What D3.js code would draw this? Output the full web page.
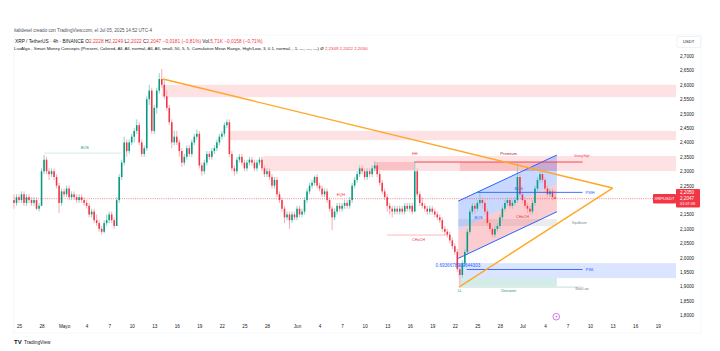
<!DOCTYPE html>
<html>
<head>
<meta charset="utf-8">
<script src="https://cdn.jsdelivr.net/npm/d3@7"></script>
<style>
  html, body { margin: 0; padding: 0; background: #fff; }
  svg { display: block; font-family: "Liberation Sans", Arial, sans-serif; }
  .axis .domain, .axis line { display: none; }
  .axis text { fill: #131722; font-size: 4.6px; font-family: "Liberation Sans", Arial, sans-serif; }
</style>
</head>
<body>
<svg id="chart" width="720" height="351"></svg>
<script>
// bars, one every 8h starting Apr 24 08:00 -> [open, high, low, close]
const firstCandle = new Date(2025, 3, 24, 8);
const candles = [
  [2.20,2.22,2.17,2.19],[2.19,2.22,2.18,2.21],
  // Apr 25 - Apr 30
  [2.21,2.22,2.19,2.20],[2.20,2.23,2.19,2.22],[2.22,2.23,2.18,2.19],
  [2.19,2.22,2.18,2.21],[2.21,2.22,2.19,2.20],[2.20,2.21,2.18,2.19],
  [2.19,2.21,2.18,2.20],[2.20,2.21,2.165,2.17],[2.17,2.19,2.16,2.18],
  [2.18,2.31,2.18,2.30],[2.30,2.356,2.29,2.34],[2.34,2.35,2.29,2.30],
  [2.30,2.31,2.27,2.29],[2.29,2.31,2.28,2.30],[2.30,2.31,2.27,2.28],
  [2.28,2.29,2.24,2.25],[2.25,2.26,2.155,2.19],[2.19,2.24,2.18,2.23],
  // May
  [2.23,2.24,2.21,2.22],[2.22,2.25,2.21,2.24],[2.24,2.25,2.20,2.21],
  [2.21,2.23,2.20,2.22],[2.22,2.23,2.20,2.21],[2.21,2.22,2.19,2.20],
  [2.20,2.22,2.19,2.21],[2.21,2.22,2.19,2.20],[2.20,2.21,2.18,2.19],
  [2.19,2.20,2.17,2.18],[2.18,2.19,2.14,2.15],[2.15,2.17,2.14,2.16],
  [2.16,2.17,2.12,2.13],[2.13,2.15,2.11,2.12],[2.12,2.13,2.09,2.10],
  [2.10,2.11,2.08,2.09],[2.09,2.13,2.085,2.12],[2.12,2.15,2.11,2.13],
  [2.13,2.16,2.12,2.15],[2.15,2.16,2.12,2.13],[2.13,2.14,2.10,2.11],
  [2.11,2.21,2.11,2.20],[2.20,2.29,2.19,2.28],[2.28,2.34,2.27,2.33],
  [2.33,2.42,2.32,2.40],[2.40,2.41,2.35,2.37],[2.37,2.41,2.36,2.40],
  [2.40,2.43,2.39,2.42],[2.42,2.45,2.40,2.44],[2.44,2.48,2.43,2.46],
  [2.46,2.47,2.39,2.40],[2.40,2.41,2.35,2.36],[2.36,2.39,2.35,2.38],
  [2.38,2.56,2.37,2.55],[2.55,2.60,2.53,2.58],[2.58,2.59,2.43,2.44],
  [2.44,2.53,2.43,2.52],[2.52,2.59,2.50,2.58],[2.58,2.64,2.57,2.62],
  [2.62,2.655,2.59,2.60],[2.60,2.62,2.55,2.56],[2.56,2.58,2.51,2.52],
  [2.52,2.53,2.46,2.47],[2.47,2.48,2.38,2.40],[2.40,2.44,2.39,2.42],
  [2.42,2.44,2.39,2.40],[2.40,2.41,2.35,2.37],[2.37,2.38,2.315,2.33],
  [2.33,2.36,2.32,2.35],[2.35,2.39,2.34,2.38],[2.38,2.39,2.35,2.36],
  [2.36,2.41,2.35,2.40],[2.40,2.43,2.39,2.42],[2.42,2.445,2.41,2.43],
  [2.43,2.44,2.31,2.32],[2.32,2.33,2.285,2.30],[2.30,2.34,2.29,2.33],
  [2.33,2.37,2.32,2.36],[2.36,2.37,2.34,2.35],[2.35,2.38,2.34,2.37],
  [2.37,2.39,2.36,2.38],[2.38,2.41,2.37,2.40],[2.40,2.43,2.39,2.42],
  [2.42,2.44,2.41,2.43],[2.43,2.47,2.42,2.46],[2.46,2.48,2.45,2.47],
  [2.47,2.48,2.35,2.36],[2.36,2.37,2.30,2.31],[2.31,2.32,2.285,2.30],
  [2.30,2.35,2.29,2.34],[2.34,2.36,2.33,2.35],[2.35,2.36,2.32,2.33],
  [2.33,2.34,2.30,2.31],[2.31,2.34,2.30,2.33],[2.33,2.35,2.32,2.34],
  [2.34,2.35,2.32,2.33],[2.33,2.34,2.30,2.31],[2.31,2.34,2.30,2.33],
  [2.33,2.35,2.32,2.34],[2.34,2.35,2.30,2.31],[2.31,2.32,2.28,2.29],
  [2.29,2.31,2.28,2.30],[2.30,2.31,2.27,2.28],[2.28,2.29,2.24,2.25],
  [2.25,2.28,2.24,2.27],[2.27,2.28,2.21,2.22],[2.22,2.23,2.19,2.20],
  [2.20,2.21,2.16,2.17],[2.17,2.18,2.12,2.14],[2.14,2.16,2.13,2.15],
  [2.15,2.16,2.10,2.13],[2.13,2.16,2.12,2.15],[2.15,2.16,2.13,2.14],
  // Jun
  [2.14,2.18,2.13,2.17],[2.17,2.18,2.14,2.15],[2.15,2.17,2.14,2.16],
  [2.16,2.21,2.15,2.20],[2.20,2.24,2.19,2.23],[2.23,2.26,2.22,2.25],
  [2.25,2.27,2.24,2.26],[2.26,2.285,2.25,2.28],[2.28,2.29,2.24,2.25],
  [2.25,2.26,2.23,2.24],[2.24,2.25,2.21,2.22],[2.22,2.24,2.21,2.23],
  [2.23,2.24,2.19,2.20],[2.20,2.21,2.16,2.17],[2.17,2.18,2.095,2.14],
  [2.14,2.17,2.13,2.16],[2.16,2.19,2.15,2.18],[2.18,2.19,2.16,2.17],
  [2.17,2.19,2.16,2.18],[2.18,2.20,2.17,2.19],[2.19,2.20,2.17,2.18],
  [2.18,2.21,2.17,2.20],[2.20,2.26,2.19,2.25],[2.25,2.28,2.24,2.27],
  [2.27,2.30,2.26,2.29],[2.29,2.32,2.28,2.31],[2.31,2.32,2.29,2.30],
  [2.30,2.31,2.27,2.28],[2.28,2.31,2.27,2.30],[2.30,2.31,2.28,2.29],
  [2.29,2.32,2.28,2.31],[2.31,2.335,2.30,2.32],[2.32,2.33,2.28,2.29],
  [2.29,2.30,2.25,2.26],[2.26,2.27,2.22,2.23],[2.23,2.24,2.20,2.21],
  [2.21,2.22,2.16,2.18],[2.18,2.19,2.15,2.17],[2.17,2.18,2.14,2.16],
  [2.16,2.18,2.15,2.17],[2.17,2.18,2.15,2.16],[2.16,2.18,2.15,2.17],
  [2.17,2.18,2.15,2.16],[2.16,2.19,2.15,2.18],[2.18,2.19,2.16,2.17],
  [2.17,2.19,2.16,2.18],[2.18,2.19,2.15,2.16],[2.16,2.335,2.16,2.30],
  [2.30,2.31,2.21,2.22],[2.22,2.23,2.18,2.19],[2.19,2.21,2.17,2.18],
  [2.18,2.19,2.16,2.17],[2.17,2.18,2.15,2.16],[2.16,2.18,2.15,2.17],
  [2.17,2.18,2.15,2.16],[2.16,2.17,2.14,2.15],[2.15,2.16,2.13,2.14],
  [2.14,2.15,2.12,2.13],[2.13,2.14,2.09,2.10],[2.10,2.11,2.08,2.09],
  [2.09,2.10,2.07,2.08],[2.08,2.09,2.05,2.06],[2.06,2.07,2.03,2.04],
  [2.04,2.05,2.01,2.02],[2.02,2.03,1.95,1.96],[1.96,1.98,1.905,1.94],
  [1.94,1.99,1.93,1.98],[1.98,2.03,1.97,2.02],[2.02,2.10,2.01,2.09],
  [2.09,2.17,2.08,2.16],[2.16,2.19,2.15,2.18],[2.18,2.19,2.15,2.17],
  [2.17,2.20,2.16,2.19],[2.19,2.23,2.18,2.20],[2.20,2.21,2.17,2.19],
  [2.19,2.20,2.15,2.16],[2.16,2.17,2.11,2.12],[2.12,2.13,2.09,2.10],
  [2.10,2.11,2.07,2.08],[2.08,2.11,2.07,2.10],[2.10,2.12,2.09,2.11],
  [2.11,2.15,2.10,2.14],[2.14,2.18,2.13,2.17],[2.17,2.20,2.16,2.19],
  [2.19,2.21,2.18,2.20],[2.20,2.21,2.17,2.18],[2.18,2.20,2.17,2.19],
  [2.19,2.21,2.18,2.20],[2.20,2.33,2.19,2.28],[2.28,2.29,2.21,2.22],
  // Jul
  [2.22,2.23,2.19,2.20],[2.20,2.21,2.17,2.18],[2.18,2.19,2.155,2.17],
  [2.17,2.18,2.15,2.16],[2.16,2.20,2.15,2.19],[2.19,2.25,2.18,2.24],
  [2.24,2.28,2.23,2.27],[2.27,2.305,2.26,2.29],[2.29,2.30,2.26,2.27],
  [2.27,2.28,2.23,2.24],[2.24,2.25,2.21,2.22],[2.22,2.24,2.21,2.23],
  [2.23,2.24,2.20,2.21],[2.21,2.235,2.2022,2.2047]
];
const lastPrice = 2.2047;

const priceTicks = [2.70, 2.65, 2.60, 2.55, 2.50, 2.45, 2.40, 2.35, 2.30, 2.25, 2.20, 2.15, 2.10, 2.05, 2.00, 1.95, 1.90, 1.85, 1.80];
const timeTicks = ["2025-04-25","2025-04-28","2025-05-01","2025-05-04","2025-05-07","2025-05-10","2025-05-13","2025-05-16","2025-05-19","2025-05-22","2025-05-25","2025-05-28","2025-06-01","2025-06-04","2025-06-07","2025-06-10","2025-06-13","2025-06-16","2025-06-19","2025-06-22","2025-06-25","2025-06-28","2025-07-01","2025-07-04","2025-07-07","2025-07-10","2025-07-13","2025-07-16","2025-07-19"];
const timeLabels = ["25","28","Mayo","4","7","10","13","16","19","22","25","28","Jun","4","7","10","13","16","19","22","25","28","Jul","4","7","10","13","16","19"];

// supply zones (run to the right edge): [from, top, bottom]
const supplyZones = [
  ["2025-05-14 00:00", 2.600, 2.557],
  ["2025-05-23 00:00", 2.440, 2.408],
  ["2025-05-27 12:00", 2.353, 2.301]
];
// darker blocks inside the lower zone: [from, to, top, bottom]
const orderBlocks = [
  ["2025-06-11 08:00", "2025-06-16 16:00", 2.332, 2.304],
  ["2025-06-22 16:00", "2025-07-05 14:00", 2.332, 2.301]
];
// rising channel: [date, upper, lower]
const channel = [["2025-06-22 11:00", 2.1965, 1.9976], ["2025-07-05 14:00", 2.3563, 2.1594]];
const equilibrium = ["2025-06-22 11:00", "2025-07-05 14:00", 2.134, 2.110];
const discountZone = ["2025-06-22 16:00", "2025-07-05 14:00", 1.929, 1.901];
const pwlZone = ["2025-06-22 11:00", 1.981, 1.929];
// triangle: [start date, start price], common apex
const triApex = ["2025-07-13 00:00", 2.2417];
const triLegs = [["2025-05-14 04:00", 2.62], ["2025-06-22 13:00", 1.898]];
// horizontal levels: [from, to, price, kind]
const levels = [
  ["2025-06-16 16:00", "2025-07-09 00:00", 2.332, "strong"],
  ["2025-06-25 00:00", "2025-07-09 00:00", 2.2267, "pwh"],
  ["2025-06-23 14:00", "2025-07-09 00:00", 1.959, "pwl"],
  ["2025-06-22 16:00", "2025-07-09 00:00", 1.898, "weak"],
  ["2025-06-13 00:00", "2025-06-21 00:00", 2.0785, "choch"],
  ["2025-04-28 08:00", "2025-05-08 16:00", 2.363, "bos"]
];
// text tags: [text, date, price, kind]
const tags = [
  ["BOS", "2025-05-03 18:00", 2.381, "green"],
  ["EQH", "2025-06-06 20:00", 2.217, "red"],
  ["HH", "2025-06-16 16:00", 2.360, "red"],
  ["CHoCH", "2025-06-17 04:00", 2.061, "red"],
  ["Premium", "2025-06-29 04:00", 2.360, "maroon"],
  ["Strong High", "2025-07-08 22:00", 2.353, "redsmall"],
  ["BOS", "2025-06-30 12:00", 2.238, "blue"],
  ["CHoCH", "2025-07-01 00:00", 2.144, "red"],
  ["BOS", "2025-06-25 04:00", 2.1375, "blue"],
  ["PWH", "2025-07-10 00:00", 2.2267, "blue"],
  ["Equilibrium", "2025-07-08 14:00", 2.122, "gray"],
  ["0.6936678909644303", "2025-06-22 10:00", 1.9743, "bluebig"],
  ["PWL", "2025-07-10 00:00", 1.959, "blue"],
  ["LL", "2025-06-22 16:00", 1.884, "green"],
  ["Discount", "2025-06-29 04:00", 1.884, "green"],
  ["Weak Low", "2025-07-08 22:00", 1.891, "gray"]
];
const eventDate = "2025-07-05 12:00";

const parseDay = d3.timeParse("%Y-%m-%d");
const parseTime = d3.timeParse("%Y-%m-%d %H:%M");

const pane = { left: 14, right: 676, top: 35, bottom: 333, axisRight: 701 };
const x = d3.scaleTime().domain([parseDay("2025-04-25"), parseDay("2025-07-19")]).range([19, 657.7]);
const y = d3.scaleLinear().domain([1.8, 2.7]).range([315.3, 56]);
const fmt = (v) => v.toFixed(4).replace(".", ",");

const svg = d3.select("#chart");

// frame
svg.append("rect").attr("x", pane.left).attr("y", pane.top)
  .attr("width", pane.axisRight - pane.left).attr("height", pane.bottom - pane.top)
  .attr("fill", "none").attr("stroke", "#eef0f3").attr("stroke-width", 0.6);

// header
svg.append("text").attr("x", 14).attr("y", 31.5).attr("font-size", 4.6).attr("fill", "#50535e")
  .text("italidesel creado con TradingView.com, el Jul 05, 2025 14:52 UTC-4");

const h2 = svg.append("text").attr("x", 15).attr("y", 43.4).attr("font-size", 4.8).attr("fill", "#131722");
[["XRP / TetherUS · 4h · BINANCE  ", "#131722"], ["O", "#131722"], ["2,2228", "#f23645"],
 [" H", "#131722"], ["2,2249", "#f23645"], [" L", "#131722"], ["2,2022", "#f23645"],
 [" C", "#131722"], ["2,2047 −0,0181 (−0,81%)", "#f23645"], ["  Vol.", "#131722"],
 ["5,71K −0,0158 (−0,71%)", "#f23645"]].forEach(([t, c]) => h2.append("tspan").attr("fill", c).text(t));

const h3 = svg.append("text").attr("x", 14).attr("y", 50.2).attr("font-size", 4.4).attr("fill", "#131722");
h3.append("tspan").text("LuxAlgo - Smart Money Concepts (Present, Colored, All, All, normal, All, All, small, 50, 5, 5, Cumulative Mean Range, High/Low, 3, 0.1, normal, , 1, —, —, —)  Ø  ");
h3.append("tspan").attr("fill", "#f23645").text("2,2349  2,2022  2,2050");

// zones
svg.append("g").selectAll("rect").data(supplyZones).join("rect")
  .attr("x", (d) => x(parseTime(d[0]))).attr("width", (d) => pane.right - x(parseTime(d[0])))
  .attr("y", (d) => y(d[1])).attr("height", (d) => y(d[2]) - y(d[1]))
  .attr("fill", "#f23645").attr("fill-opacity", 0.15);

svg.append("g").selectAll("rect").data(orderBlocks).join("rect")
  .attr("x", (d) => x(parseTime(d[0]))).attr("width", (d) => x(parseTime(d[1])) - x(parseTime(d[0])))
  .attr("y", (d) => y(d[2])).attr("height", (d) => y(d[3]) - y(d[2]))
  .attr("fill", "#f23645").attr("fill-opacity", 0.18);

svg.append("rect")
  .attr("x", x(parseTime(pwlZone[0]))).attr("width", pane.right - x(parseTime(pwlZone[0])))
  .attr("y", y(pwlZone[1])).attr("height", y(pwlZone[2]) - y(pwlZone[1]))
  .attr("fill", "#2962ff").attr("fill-opacity", 0.17);

[[discountZone, "#089981", 0.18], [equilibrium, "#787b86", 0.14]].forEach(([z, c, o]) => {
  svg.append("rect")
    .attr("x", x(parseTime(z[0]))).attr("width", x(parseTime(z[1])) - x(parseTime(z[0])))
    .attr("y", y(z[2])).attr("height", y(z[3]) - y(z[2]))
    .attr("fill", c).attr("fill-opacity", o);
});

// channel halves
const c0 = x(parseTime(channel[0][0])), c1 = x(parseTime(channel[1][0]));
const mid = channel.map((c) => (c[1] + c[2]) / 2);
svg.append("polygon")
  .attr("points", [[c0, y(channel[0][1])], [c1, y(channel[1][1])], [c1, y(mid[1])], [c0, y(mid[0])]].join(" "))
  .attr("fill", "#2962ff").attr("fill-opacity", 0.25);
svg.append("polygon")
  .attr("points", [[c0, y(mid[0])], [c1, y(mid[1])], [c1, y(channel[1][2])], [c0, y(channel[0][2])]].join(" "))
  .attr("fill", "#f23645").attr("fill-opacity", 0.25);

// last price line
svg.append("line").attr("x1", pane.left).attr("x2", pane.right)
  .attr("y1", y(lastPrice)).attr("y2", y(lastPrice))
  .attr("stroke", "#f23645").attr("stroke-width", 0.6).attr("stroke-dasharray", "1,1.2");

// candles
const step = x(d3.timeHour.offset(firstCandle, 8)) - x(firstCandle);
const bodyW = step * 0.62;
const bars = svg.append("g").selectAll("g").data(candles).join("g")
  .attr("transform", (d, i) => `translate(${x(d3.timeHour.offset(firstCandle, 8 * i))},0)`);
bars.append("line")
  .attr("y1", (d) => y(d[1])).attr("y2", (d) => y(d[2]))
  .attr("stroke", (d) => (d[3] >= d[0] ? "#7fcfc2" : "#f7a3ab")).attr("stroke-width", 0.9);
bars.append("rect")
  .attr("x", -bodyW / 2).attr("width", bodyW)
  .attr("y", (d) => y(Math.max(d[0], d[3])))
  .attr("height", (d) => Math.max(0.6, Math.abs(y(d[0]) - y(d[3]))))
  .attr("fill", (d) => (d[3] >= d[0] ? "#089981" : "#f23645"));

// channel border lines
svg.append("line").attr("x1", c0).attr("x2", c1).attr("y1", y(channel[0][1])).attr("y2", y(channel[1][1]))
  .attr("stroke", "#2962ff").attr("stroke-width", 1);
svg.append("line").attr("x1", c0).attr("x2", c1).attr("y1", y(channel[0][2])).attr("y2", y(channel[1][2]))
  .attr("stroke", "#2962ff").attr("stroke-width", 1);

// levels
const levelStyle = {
  strong: ["#f23645", 0.9, 1], pwh: ["#2962ff", 0.9, 1], pwl: ["#2962ff", 0.9, 1],
  weak: ["#9fc9bf", 0.6, 1], choch: ["#f23645", 0.5, 0.7], bos: ["#089981", 0.5, 0.35]
};
svg.append("g").selectAll("line").data(levels).join("line")
  .attr("x1", (d) => x(parseTime(d[0]))).attr("x2", (d) => x(parseTime(d[1])))
  .attr("y1", (d) => y(d[2])).attr("y2", (d) => y(d[2]))
  .attr("stroke", (d) => levelStyle[d[3]][0]).attr("stroke-width", (d) => levelStyle[d[3]][1])
  .attr("stroke-opacity", (d) => levelStyle[d[3]][2]);

// triangle
const apex = [x(parseTime(triApex[0])), y(triApex[1])];
svg.append("g").selectAll("line").data(triLegs).join("line")
  .attr("x1", (d) => x(parseTime(d[0]))).attr("y1", (d) => y(d[1]))
  .attr("x2", apex[0]).attr("y2", apex[1])
  .attr("stroke", "#ffa726").attr("stroke-width", 1.4);

// tags
const tagStyle = {
  green: ["#089981", 3.8], red: ["#f23645", 3.8], maroon: ["#b22833", 4.2], redsmall: ["#f23645", 2.9],
  blue: ["#2962ff", 3.9], gray: ["#787b86", 2.9], bluebig: ["#2962ff", 4.6]
};
svg.append("g").selectAll("text").data(tags).join("text")
  .attr("x", (d) => x(parseTime(d[1]))).attr("y", (d) => y(d[2]))
  .attr("dy", "0.35em").attr("text-anchor", "middle")
  .attr("fill", (d) => tagStyle[d[3]][0]).attr("font-size", (d) => tagStyle[d[3]][1])
  .text((d) => d[0]);

// price scale (the tick hidden behind the last-price label is left out)
const labelBox = { top: 189, bottom: 207.5 };
const shownTicks = priceTicks.filter((p) => y(p) < labelBox.top - 2 || y(p) > labelBox.bottom + 2);
svg.append("g").attr("class", "axis").attr("transform", `translate(680,0)`)
  .call(d3.axisRight(y).tickValues(shownTicks).tickFormat(fmt).tickSize(0).tickPadding(0))
  .selectAll("text").attr("text-anchor", "start");

svg.append("rect").attr("x", 677).attr("y", 36.5).attr("width", 23.5).attr("height", 11).attr("rx", 1.5)
  .attr("fill", "#fff").attr("stroke", "#e0e3eb").attr("stroke-width", 0.5);
svg.append("text").attr("x", 688.7).attr("y", 42).attr("dy", "0.35em").attr("text-anchor", "middle")
  .attr("font-size", 4.2).attr("fill", "#131722").text("USDT");

// last price labels
svg.append("rect").attr("x", 676).attr("y", labelBox.top).attr("width", 24)
  .attr("height", labelBox.bottom - labelBox.top).attr("rx", 1).attr("fill", "#f23645");
[["2,2050", 192.7], [fmt(lastPrice), 198.3], ["01:07:08", 203.6]].forEach(([t, ty], i) => {
  svg.append("text").attr("x", 680).attr("y", ty).attr("dy", "0.35em")
    .attr("font-size", i === 2 ? 3.9 : 4.6).attr("fill", "#fff").text(t);
});
svg.append("rect").attr("x", 653).attr("y", 194).attr("width", 23).attr("height", 9.5).attr("rx", 1)
  .attr("fill", "#f23645");
svg.append("text").attr("x", 664.5).attr("y", 198.8).attr("dy", "0.35em").attr("text-anchor", "middle")
  .attr("font-size", 4.2).attr("fill", "#fff").text("XRPUSDT");

// time scale
svg.append("g").attr("class", "axis").attr("transform", `translate(0,322)`)
  .call(d3.axisBottom(x).tickValues(timeTicks.map(parseDay)).tickFormat((d, i) => timeLabels[i]).tickSize(0).tickPadding(3));

// event marker
const ex = x(parseTime(eventDate));
svg.append("circle").attr("cx", ex).attr("cy", 316.7).attr("r", 3.3)
  .attr("fill", "#fff").attr("stroke", "#c158dc").attr("stroke-width", 0.8);
svg.append("path").attr("transform", `translate(${ex},316.7)`)
  .attr("d", "M0.6,-2 L-1,0.3 L0.1,0.3 L-0.5,2 L1.1,-0.4 L0,-0.4 Z").attr("fill", "#c158dc");

// footer logo
svg.append("text").attr("x", 14).attr("y", 344.3).attr("font-size", 6).attr("font-weight", "bold")
  .attr("fill", "#131722").text("TV");
svg.append("text").attr("x", 24).attr("y", 343.8).attr("font-size", 4.8).attr("fill", "#131722").text("TradingView");
</script>
</body>
</html>
